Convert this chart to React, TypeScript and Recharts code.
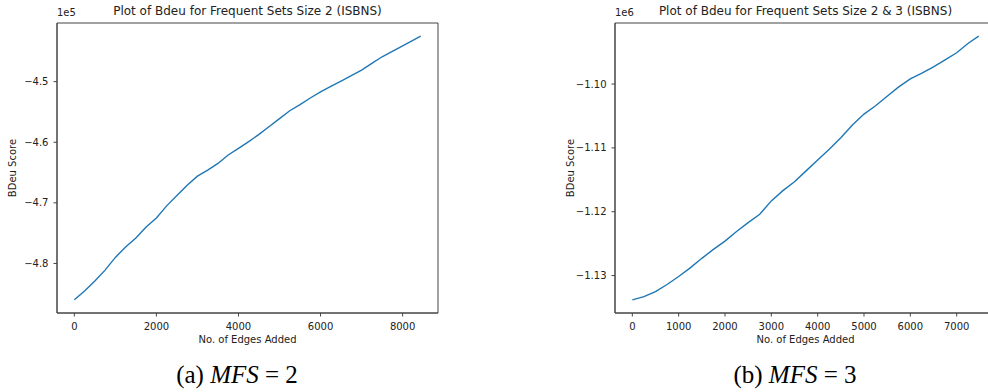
import React from 'react';
import { LineChart, Line, XAxis, YAxis, ReferenceArea } from 'recharts';

// MFS = 2 run
const edgesA = [0, 250, 500, 750, 1000, 1250, 1500, 1750, 2000, 2250, 2500, 2750, 3000, 3250, 3500, 3750, 4000, 4250, 4500, 4750, 5000, 5250, 5500, 5750, 6000, 6250, 6500, 6750, 7000, 7250, 7500, 7750, 8000, 8250, 8440];
const bdeuA = [-486000, -484550, -482900, -481100, -479000, -477300, -475800, -474000, -472500, -470500, -468800, -467100, -465600, -464600, -463500, -462100, -461000, -459900, -458700, -457400, -456100, -454800, -453800, -452700, -451700, -450800, -449900, -449000, -448100, -447000, -445900, -445000, -444100, -443200, -442500];

// MFS = 3 run
const edgesB = [0, 250, 500, 750, 1000, 1250, 1500, 1750, 2000, 2250, 2500, 2750, 3000, 3250, 3500, 3750, 4000, 4250, 4500, 4750, 5000, 5250, 5500, 5750, 6000, 6250, 6500, 6750, 7000, 7250, 7475];
const bdeuB = [-1133800, -1133300, -1132500, -1131400, -1130150, -1128800, -1127300, -1125900, -1124600, -1123100, -1121700, -1120400, -1118300, -1116700, -1115300, -1113600, -1111900, -1110200, -1108400, -1106400, -1104700, -1103400, -1101900, -1100450, -1099200, -1098300, -1097300, -1096200, -1095100, -1093600, -1092500];

const xTicksA = [0, 2000, 4000, 6000, 8000];
const yTicksA = [-480000, -470000, -460000, -450000];
const xTicksB = [0, 1000, 2000, 3000, 4000, 5000, 6000, 7000];
const yTicksB = [-1130000, -1120000, -1110000, -1100000];

const FONT = '"DejaVu Sans", sans-serif';
const BLUE = '#1f77b4';
const SPINE = '#444';
const TEXT = '#222';

const tickStyle = { fontSize: 10, fill: TEXT, fontFamily: FONT };

function pad(lo: number, hi: number): [number, number] {
  const m = (hi - lo) * 0.05;
  return [lo - m, hi + m];
}

interface PanelProps {
  xs: number[];
  ys: number[];
  xTicks: number[];
  yTicks: number[];
  scale: number;
  digits: number;
  offsetText: string;
  title: string;
  left: number;
}

function Panel({ xs, ys, xTicks, yTicks, scale, digits, offsetText, title, left }: PanelProps) {
  const data = xs.map((x, i) => ({ x, y: ys[i] }));
  const xDom = pad(Math.min(...xs), Math.max(...xs));
  const yDom = pad(Math.min(...ys), Math.max(...ys));
  const fmtY = (v: number) => (v / scale).toFixed(digits).replace('-', '\u2212');

  return (
    <div style={{ position: 'absolute', left, top: 0, width: 460, height: 392 }}>
      <LineChart width={460} height={392} data={data} margin={{ top: 23, right: 22, bottom: 49, left: 17 }}>
        <XAxis
          dataKey="x"
          type="number"
          domain={xDom}
          ticks={xTicks}
          allowDataOverflow
          stroke={SPINE}
          tickSize={3.5}
          tickMargin={6}
          height={30}
          tick={tickStyle}
        />
        <YAxis
          type="number"
          domain={yDom}
          ticks={yTicks}
          allowDataOverflow
          stroke={SPINE}
          tickSize={3.5}
          tickMargin={5}
          width={40}
          tick={tickStyle}
          tickFormatter={fmtY}
        />
        <ReferenceArea
          x1={xDom[0]} x2={xDom[1]} y1={yDom[0]} y2={yDom[1]}
          fill="none" fillOpacity={0} stroke={SPINE} strokeWidth={1} ifOverflow="visible"
        />
        <Line type="linear" dataKey="y" stroke={BLUE} strokeWidth={1.4} dot={false} isAnimationActive={false} />
      </LineChart>
      <div style={{ position: 'absolute', left: 57, top: 7, fontSize: 10, fontFamily: FONT, color: TEXT }}>{offsetText}</div>
      <div style={{ position: 'absolute', left: 57, width: 381, top: 4, textAlign: 'center', fontSize: 12, fontFamily: FONT, color: TEXT, whiteSpace: 'nowrap' }}>
        {title}
      </div>
      <div style={{ position: 'absolute', left: 57, width: 381, top: 334, textAlign: 'center', fontSize: 10, fontFamily: FONT, color: TEXT }}>
        No. of Edges Added
      </div>
      <div
        style={{
          position: 'absolute', left: 12, top: 168, fontSize: 10, fontFamily: FONT, color: TEXT, whiteSpace: 'nowrap',
          transform: 'translate(-50%, -50%) rotate(-90deg)',
        }}
      >
        BDeu Score
      </div>
    </div>
  );
}

function Caption({ tag, n, center }: { tag: string; n: number; center: number }) {
  return (
    <div
      style={{
        position: 'absolute', left: center - 100, width: 200, top: 361, textAlign: 'center',
        fontSize: 25, fontFamily: '"Liberation Serif", "DejaVu Serif", serif', color: '#000', whiteSpace: 'nowrap',
      }}
    >
      ({tag}) <i>MFS</i>&nbsp;=&nbsp;{n}
    </div>
  );
}

export default function App() {
  return (
    <div style={{ position: 'absolute', left: 0, top: 0, width: 988, height: 392, overflow: 'hidden', background: '#fff' }}>
      <Panel
        xs={edgesA} ys={bdeuA} xTicks={xTicksA} yTicks={yTicksA} scale={1e5} digits={1}
        offsetText="1e5" title="Plot of Bdeu for Frequent Sets Size 2 (ISBNS)" left={0}
      />
      <Panel
        xs={edgesB} ys={bdeuB} xTicks={xTicksB} yTicks={yTicksB} scale={1e6} digits={2}
        offsetText="1e6" title="Plot of Bdeu for Frequent Sets Size 2 & 3 (ISBNS)" left={558}
      />
      <Caption tag="a" n={2} center={237} />
      <Caption tag="b" n={3} center={795} />
    </div>
  );
}
